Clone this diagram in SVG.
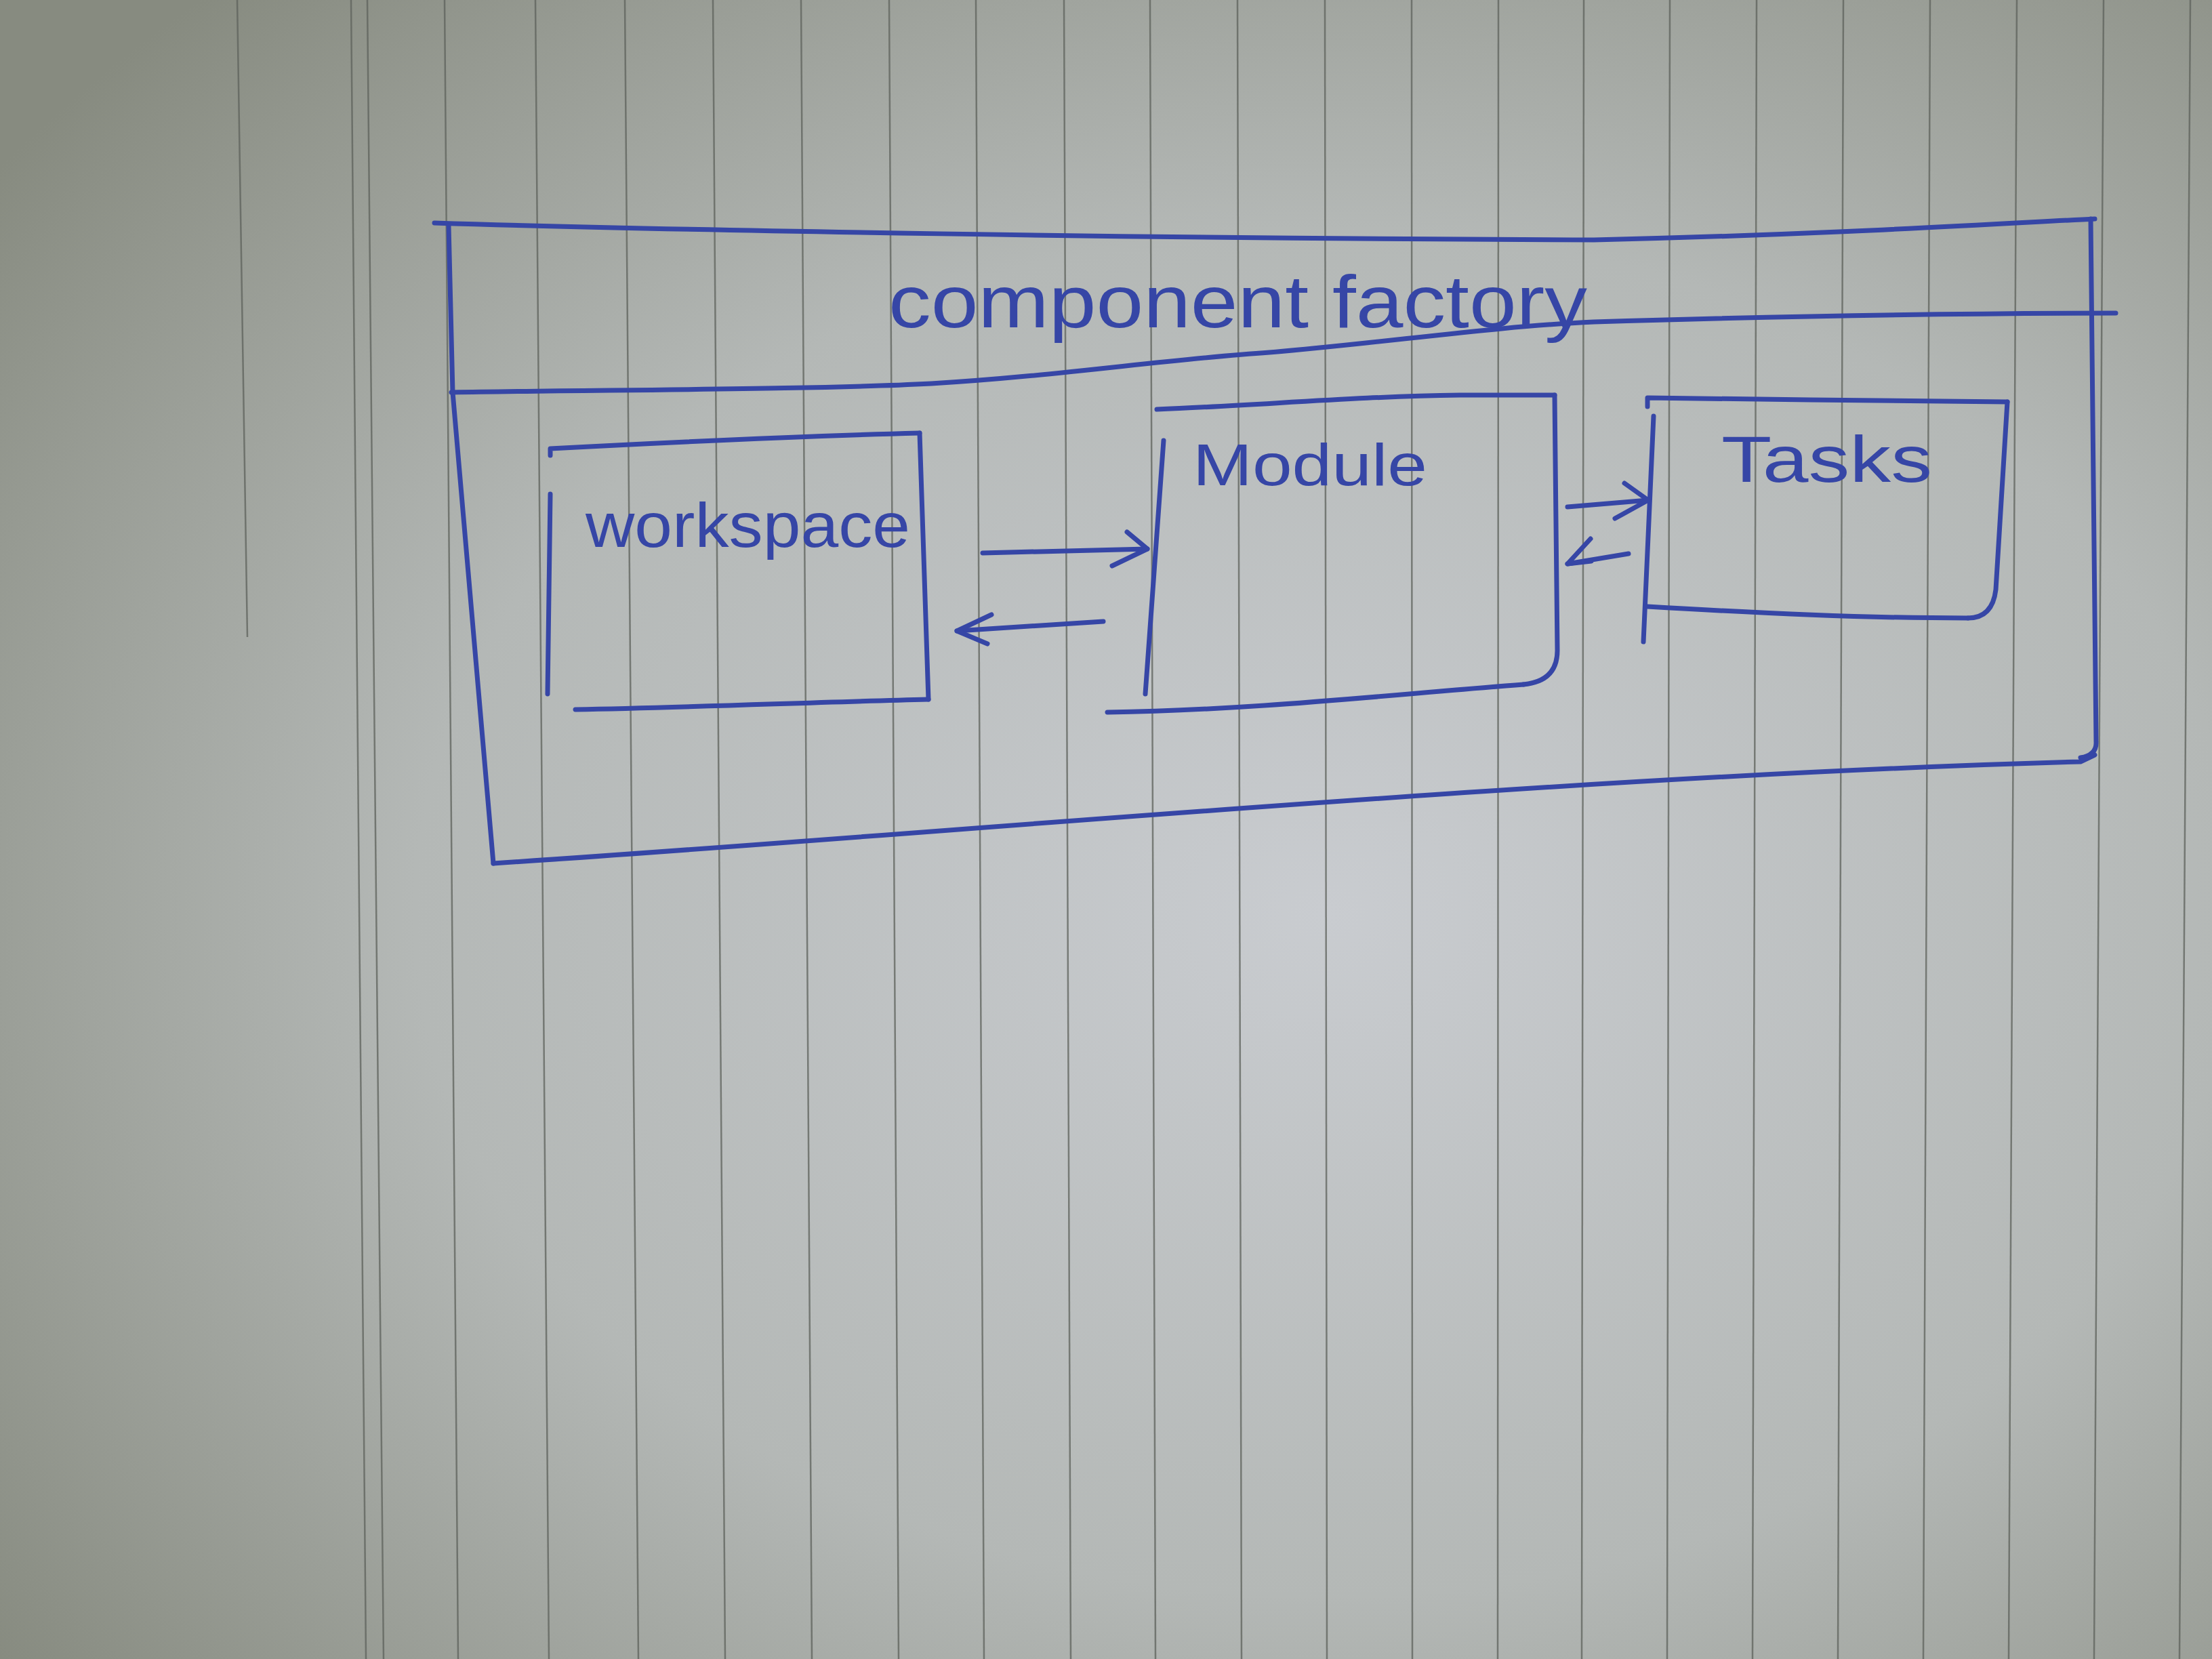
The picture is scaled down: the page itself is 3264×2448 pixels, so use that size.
<svg xmlns="http://www.w3.org/2000/svg" width="3264" height="2448" viewBox="0 0 3264 2448">
  <defs>
    <radialGradient id="paper" cx="0.6" cy="0.55" r="0.75">
      <stop offset="0" stop-color="#c9ccd0"/>
      <stop offset="0.55" stop-color="#b4b8b6"/>
      <stop offset="1" stop-color="#878b80"/>
    </radialGradient>
    <marker id="ah" viewBox="0 0 20 20" refX="18" refY="10" markerWidth="8" markerHeight="8" markerUnits="userSpaceOnUse" orient="auto">
      <path d="M0,0 L18,10 L0,20" fill="none" stroke="#3a4aa8" stroke-width="2"/>
    </marker>
    <style>
      .ink { fill: none; stroke: #3646a6; stroke-width: 7; stroke-linecap: round; stroke-linejoin: round; }
      .rule { stroke: #5e625c; stroke-width: 2.5; opacity: 0.75; }
      .lbl { font-family: "Liberation Sans", "DejaVu Sans", sans-serif; fill: #3646a6; }
    </style>
  </defs>

  <rect x="0" y="0" width="3264" height="2448" fill="url(#paper)"/>

  <g id="paper-rules">
    <line class="rule" x1="350" y1="0" x2="365" y2="940"/>
    <line class="rule" x1="518" y1="0" x2="540" y2="2448"/>
    <line class="rule" x1="542" y1="0" x2="566" y2="2448"/>
    <line class="rule" x1="656" y1="0" x2="676" y2="2448"/>
    <line class="rule" x1="790" y1="0" x2="810" y2="2448"/>
    <line class="rule" x1="922" y1="0" x2="942" y2="2448"/>
    <line class="rule" x1="1052" y1="0" x2="1070" y2="2448"/>
    <line class="rule" x1="1182" y1="0" x2="1198" y2="2448"/>
    <line class="rule" x1="1312" y1="0" x2="1326" y2="2448"/>
    <line class="rule" x1="1440" y1="0" x2="1452" y2="2448"/>
    <line class="rule" x1="1570" y1="0" x2="1580" y2="2448"/>
    <line class="rule" x1="1697" y1="0" x2="1705" y2="2448"/>
    <line class="rule" x1="1826" y1="0" x2="1832" y2="2448"/>
    <line class="rule" x1="1955" y1="0" x2="1958" y2="2448"/>
    <line class="rule" x1="2083" y1="0" x2="2084" y2="2448"/>
    <line class="rule" x1="2211" y1="0" x2="2210" y2="2448"/>
    <line class="rule" x1="2337" y1="0" x2="2334" y2="2448"/>
    <line class="rule" x1="2464" y1="0" x2="2460" y2="2448"/>
    <line class="rule" x1="2592" y1="0" x2="2586" y2="2448"/>
    <line class="rule" x1="2720" y1="0" x2="2712" y2="2448"/>
    <line class="rule" x1="2848" y1="0" x2="2838" y2="2448"/>
    <line class="rule" x1="2976" y1="0" x2="2964" y2="2448"/>
    <line class="rule" x1="3104" y1="0" x2="3090" y2="2448"/>
    <line class="rule" x1="3232" y1="0" x2="3216" y2="2448"/>
  </g>

  <g id="component-factory">
    <path class="ink" d="M641,329 C1000,340 1700,352 2352,354 C2700,346 2950,330 3091,323"/>
    <path class="ink" d="M662,333 L668,579 L728,1274"/>
    <path class="ink" d="M3085,323 L3093,1095 Q3094,1114 3070,1118"/>
    <path class="ink" d="M728,1274 C1400,1230 2300,1145 3070,1124 L3091,1114"/>
    <path class="ink" d="M666,579 C900,575 1200,575 1374,566 C1560,555 1720,530 1873,520 C2050,505 2200,482 2352,475 C2650,466 2900,462 3122,462"/>
    <text class="lbl" x="1311" y="483" font-size="110" textLength="1031" lengthAdjust="spacingAndGlyphs">component factory</text>
  </g>

  <g id="workspace">
    <path class="ink" d="M812,672 L812,662 C1000,652 1200,643 1357,639"/>
    <path class="ink" d="M812,729 L808,1024"/>
    <path class="ink" d="M1357,639 L1370,1032"/>
    <path class="ink" d="M849,1047 C1020,1044 1200,1036 1370,1032"/>
    <text class="lbl" x="864" y="807" font-size="92" textLength="479" lengthAdjust="spacingAndGlyphs">workspace</text>
  </g>

  <g id="module">
    <path class="ink" d="M1707,604 C1860,598 2000,585 2154,583 L2294,583"/>
    <path class="ink" d="M1717,650 L1690,1024"/>
    <path class="ink" d="M2294,583 L2298,960 Q2298,1005 2248,1010"/>
    <path class="ink" d="M1634,1051 C1850,1048 2050,1025 2248,1010"/>
    <text class="lbl" x="1760" y="716" font-size="88" textLength="346" lengthAdjust="spacingAndGlyphs">Module</text>
  </g>

  <g id="tasks">
    <path class="ink" d="M2431,600 L2431,587 C2600,589 2800,592 2962,593"/>
    <path class="ink" d="M2440,614 L2425,947"/>
    <path class="ink" d="M2962,593 L2945,870 Q2940,912 2904,912"/>
    <path class="ink" d="M2431,895 C2600,905 2750,912 2904,912"/>
    <text class="lbl" x="2540" y="711" font-size="96" textLength="311" lengthAdjust="spacingAndGlyphs">Tasks</text>
  </g>

  <g id="connectors">
    <path class="ink" d="M1450,816 L1693,810"/>
    <path class="ink" d="M1663,785 L1693,810 L1641,835"/>
    <path class="ink" d="M1628,917 L1412,931"/>
    <path class="ink" d="M1463,907 L1412,931 L1457,950"/>
    <path class="ink" d="M2313,748 L2432,738"/>
    <path class="ink" d="M2397,713 L2432,738 L2383,765"/>
    <path class="ink" d="M2403,817 L2313,832"/>
    <path class="ink" d="M2347,795 L2313,832 L2348,828"/>
  </g>
</svg>
